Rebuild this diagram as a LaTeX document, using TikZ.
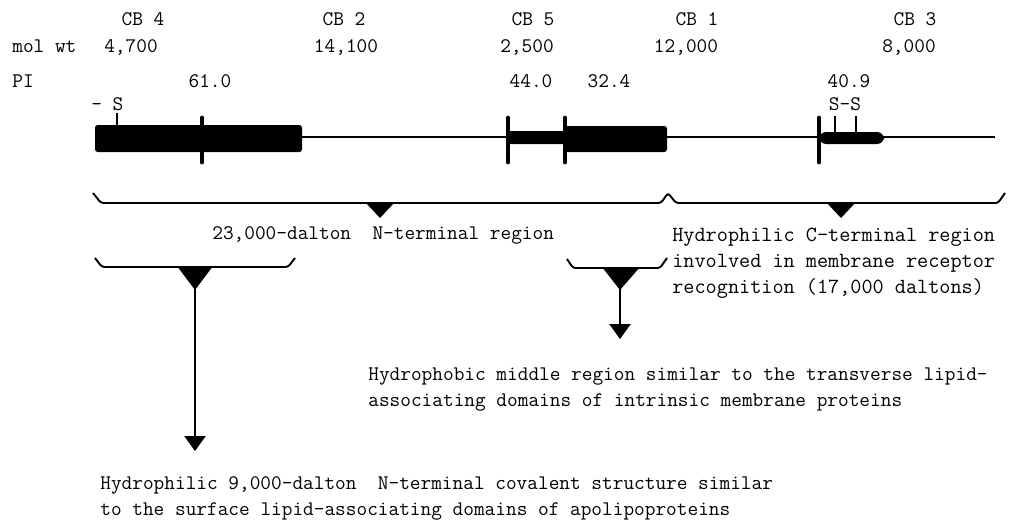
\documentclass[tikz,border=0pt]{standalone}
\usepackage{fontspec}
\usepackage{tikz}
\usetikzlibrary{arrows.meta}

\begin{document}
\begin{tikzpicture}[x=0.02cm, y=-0.02cm,
    lbl/.style={font=\ttfamily\fontsize{11.8}{14.8}\selectfont, inner sep=0pt, anchor=base},
    txt/.style={font=\ttfamily\fontsize{11.8}{14.8}\selectfont, inner sep=0pt, align=left, anchor=north west},
    chain/.style={line width=1.5pt},
    block/.style={fill=black, rounded corners=1.5pt},
    cut/.style={line width=2.8pt, line cap=round},
    ssbond/.style={line width=1pt},
    brace/.style={line width=1.1pt, rounded corners=1.5pt},
    wedge/.style={fill=black},
    arrow/.style={-{Triangle[width=12pt, length=8.5pt]}, line width=1.1pt}]

\useasboundingbox (0,0) rectangle (1014,525);

\node[lbl] (cbfour) at (143,25) {CB 4};
\node[lbl] (cbtwo) at (344,25) {CB 2};
\node[lbl] (cbfive) at (533,25) {CB 5};
\node[lbl] (cbone) at (697,25) {CB 1};
\node[lbl] (cbthree) at (915,25) {CB 3};

\node[lbl, anchor=base west] (molwt) at (12,52) {mol wt};
\node[lbl] (wtfour) at (131,52) {4,700};
\node[lbl] (wttwo) at (346,52) {14,100};
\node[lbl] (wtfive) at (527,52) {2,500};
\node[lbl] (wtone) at (686,52) {12,000};
\node[lbl] (wtthree) at (909,52) {8,000};

\node[lbl, anchor=base west] (pi) at (12,87) {PI};
\node[lbl] (pifour) at (210,87) {61.0};
\node[lbl] (pifive) at (531,87) {44.0};
\node[lbl] (pione) at (609,87) {32.4};
\node[lbl] (pithree) at (849,87) {40.9};

\node[lbl, anchor=base west] (sfree) at (91,110) {- S};
\node[lbl] (sbond) at (845,110) {S-S};

\coordinate (nend) at (95,137);
\coordinate (cend) at (995,137);
\draw[chain] (nend) -- (cend);
\fill[block] (95,125) rectangle (302,152);
\fill[block] (508,131) rectangle (565,144);
\fill[block] (565,126) rectangle (667,152);
\fill[block, rounded corners=4pt] (819,132) rectangle (884,144);
\foreach \x in {202,508,565,819}
    \draw[cut] (\x,118) -- (\x,162);
\draw[ssbond] (117,113) -- (117,126);
\foreach \x in {835,856}
    \draw[ssbond] (\x,116) -- (\x,134);

\draw[brace] (93,193) -- (101,203) -- (661,203) -- (668,193) -- (676,203) -- (998,203) -- (1005,193);
\fill[wedge] (365,202) -- (395,202) -- (380,218) -- cycle;
\fill[wedge] (826,202) -- (856,202) -- (841,218) -- cycle;

\node[lbl, anchor=base west] (nterm) at (212,239) {23,000-dalton\ \ N-terminal region};
\node[txt, font=\ttfamily\fontsize{12.3}{14.8}\selectfont] (cterm) at (672,228)
    {Hydrophilic C-terminal region\\involved in membrane receptor\\recognition (17,000 daltons)};

\draw[brace] (95,258) -- (102,267) -- (288,267) -- (295,258);
\fill[wedge] (177,266) -- (213,266) -- (195,290) -- cycle;
\coordinate (amphi) at (195,288);
\coordinate (amphitip) at (195,451);
\draw[arrow] (amphi) -- (amphitip);

\draw[brace] (567,259) -- (573,268) -- (660,268) -- (667,258);
\fill[wedge] (602,267) -- (640,267) -- (620,290) -- cycle;
\coordinate (phobic) at (620,288);
\coordinate (phobictip) at (620,339);
\draw[arrow] (phobic) -- (phobictip);

\node[txt] (middle) at (368,367)
    {Hydrophobic middle region similar to the transverse lipid-\\associating domains of intrinsic membrane proteins};
\node[txt] (nhelix) at (100,476)
    {Hydrophilic 9,000-dalton\ \ N-terminal covalent structure similar\\to the surface lipid-associating domains of apolipoproteins};

\end{tikzpicture}
\end{document}
